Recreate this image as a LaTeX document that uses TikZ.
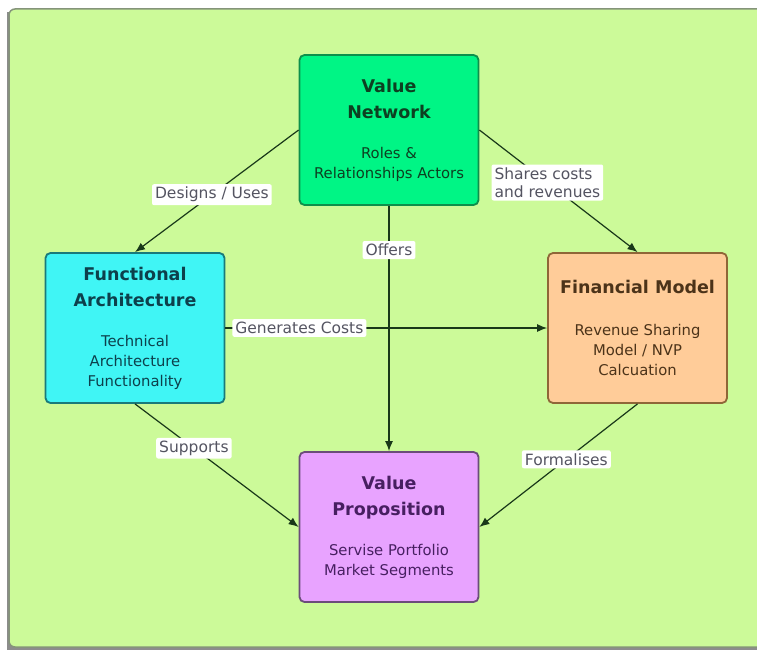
\documentclass[tikz,border=0pt]{standalone}
\usepackage{fontspec}
\setmainfont{DejaVu Sans}
\usetikzlibrary{arrows.meta}

\newlength{\du}
\setlength{\du}{1pt}

\definecolor{pagegreen}{rgb}{0.800000, 0.980000, 0.600000}
\definecolor{pageline}{rgb}{0.520000, 0.580000, 0.480000}
\definecolor{networkfill}{rgb}{0.000000, 0.960000, 0.520000}
\definecolor{networkline}{rgb}{0.050000, 0.560000, 0.300000}
\definecolor{networktext}{rgb}{0.050000, 0.250000, 0.130000}
\definecolor{archfill}{rgb}{0.250000, 0.960000, 0.960000}
\definecolor{archline}{rgb}{0.100000, 0.480000, 0.480000}
\definecolor{archtext}{rgb}{0.050000, 0.250000, 0.300000}
\definecolor{financefill}{rgb}{1.000000, 0.800000, 0.600000}
\definecolor{financeline}{rgb}{0.560000, 0.400000, 0.220000}
\definecolor{financetext}{rgb}{0.300000, 0.200000, 0.100000}
\definecolor{propfill}{rgb}{0.910000, 0.640000, 1.000000}
\definecolor{propline}{rgb}{0.420000, 0.300000, 0.480000}
\definecolor{proptext}{rgb}{0.280000, 0.120000, 0.380000}
\definecolor{labeltext}{rgb}{0.330000, 0.330000, 0.380000}
\definecolor{flowline}{rgb}{0.100000, 0.220000, 0.100000}

\newcommand{\boxtitle}[1]{{\bfseries\fontsize{17.5}{20}\selectfont #1}}

\begin{document}
\begin{tikzpicture}[x=\du,y=-\du,
  modelbox/.style={draw, line width=1.8\du, rounded corners=5\du,
    minimum width=179\du, minimum height=150\du, inner sep=0pt,
    align=center, font=\fontsize{14.8}{20}\selectfont},
  flow/.style={draw=flowline, line width=1.2pt, -{Latex[length=10pt,width=8pt]}},
  flowlabel/.style={fill=white, text=labeltext, rounded corners=2pt,
    inner sep=3pt, font=\fontsize{15.5}{18}\selectfont}]
\useasboundingbox (0,0) rectangle (757,650);
\clip (0,0) rectangle (757,650);
% page
\fill[black!45] (7,12) rectangle (770,650);
\draw[fill=pagegreen, draw=pageline, line width=1.5\du, rounded corners=6\du] (9,9) rectangle (770,647);
% boxes
\node[modelbox, fill=networkfill, draw=networkline, text=networktext] (network) at (389,130)
  {\boxtitle{Value}\\[6\du]\boxtitle{Network}\\[20\du]Roles \&\\Relationships Actors};
\node[modelbox, fill=archfill, draw=archline, text=archtext] (arch) at (135,328)
  {\boxtitle{Functional}\\[6\du]\boxtitle{Architecture}\\[20\du]Technical\\Architecture\\Functionality};
\node[modelbox, fill=financefill, draw=financeline, text=financetext] (finance) at (637.5,328)
  {\boxtitle{Financial Model}\\[22\du]Revenue Sharing\\Model / NVP\\Calcuation};
\node[modelbox, fill=propfill, draw=propline, text=proptext] (prop) at (389,527)
  {\boxtitle{Value}\\[6\du]\boxtitle{Proposition}\\[20\du]Servise Portfolio\\Market Segments};
% connectors
\draw[flow] (network.west) -- node[flowlabel, pos=0.53] (designs) {Designs / Uses} (arch.north);
\draw[flow] (network.east) -- node[flowlabel, pos=0.43, align=left] (shares) {Shares costs\\and revenues} (finance.north);
\draw[flow] (network.south) -- node[flowlabel, pos=0.18] (offers) {Offers} (prop.north);
\draw[flow] (arch.east) -- node[flowlabel, pos=0.23] (costs) {Generates Costs} (finance.west);
\draw[flow] (arch.south) -- node[flowlabel, pos=0.36] (supports) {Supports} (prop.west);
\draw[flow] (finance.south) -- node[flowlabel, pos=0.45] (formalises) {Formalises} (prop.east);
\end{tikzpicture}
\end{document}
